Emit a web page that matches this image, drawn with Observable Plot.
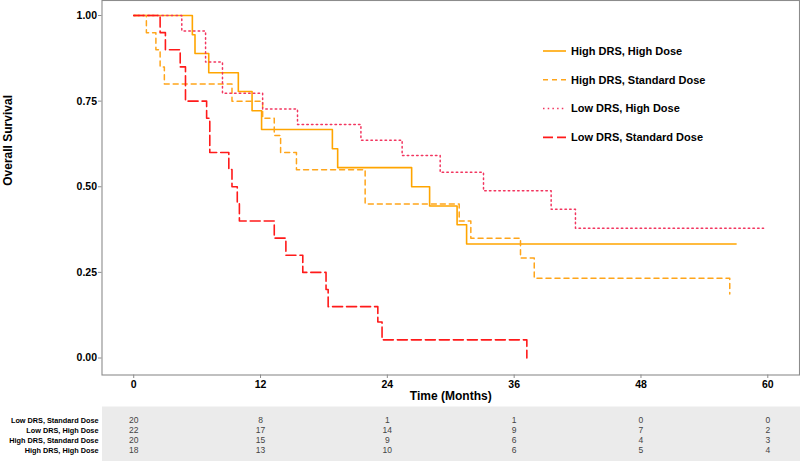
<!DOCTYPE html>
<html>
<head>
<meta charset="utf-8">
<script src="https://cdn.jsdelivr.net/npm/d3@7"></script>
<script src="https://cdn.jsdelivr.net/npm/@observablehq/plot@0.6"></script>
<style>
  html, body { margin: 0; padding: 0; background: #fff; }
  svg { display: block; }
</style>
</head>
<body>
<div id="chart"></div>
<script>
// ---- Data ----
const groupNames = ["High DRS, High Dose", "High DRS, Standard Dose", "Low DRS, High Dose", "Low DRS, Standard Dose"];

const hdhdTime = [0, 5.55, 5.8, 7.1, 9.9, 11.2, 12.1, 18.8, 19.3, 26.3, 28.0, 30.6, 31.5, 57.0];
const hdhdSurv = [1, 0.944, 0.889, 0.833, 0.778, 0.722, 0.667, 0.611, 0.556, 0.5, 0.444, 0.389, 0.333, 0.333];

const hdsdTime = [0, 1.2, 2.1, 2.5, 2.9, 9.3, 12.2, 13.3, 13.9, 15.4, 21.9, 30.8, 31.9, 36.6, 37.9, 56.4];
const hdsdSurv = [1, 0.95, 0.90, 0.85, 0.80, 0.75, 0.70, 0.65, 0.60, 0.55, 0.45, 0.40, 0.35, 0.292, 0.233, 0.187];

const ldhdTime = [0, 4.55, 6.8, 8.4, 12.2, 15.5, 21.5, 25.4, 29.0, 33.1, 39.5, 41.8, 59.6];
const ldhdSurv = [1, 0.955, 0.864, 0.773, 0.727, 0.682, 0.636, 0.591, 0.542, 0.488, 0.434, 0.379, 0.379];

const ldsdTime = [0, 2.5, 3.0, 4.4, 4.9, 6.9, 7.2, 9.0, 9.3, 9.8, 10.0, 13.3, 14.4, 16.0, 18.2, 18.4, 23.1, 23.5, 37.2];
const ldsdSurv = [1, 0.95, 0.90, 0.85, 0.75, 0.70, 0.60, 0.55, 0.50, 0.45, 0.40, 0.35, 0.30, 0.25, 0.20, 0.15, 0.105, 0.053, 0];

const xTicks = [0, 12, 24, 36, 48, 60];
const yTicks = [0, 0.25, 0.5, 0.75, 1];

const riskRows = ["Low DRS, Standard Dose", "Low DRS, High Dose", "High DRS, Standard Dose", "High DRS, High Dose"];
const riskLdsd = [20, 8, 1, 1, 0, 0];
const riskLdhd = [22, 17, 14, 9, 7, 2];
const riskHdsd = [20, 15, 9, 6, 4, 3];
const riskHdhd = [18, 13, 10, 6, 5, 4];

// ---- Styles ----
const styles = {
  "High DRS, High Dose":     {stroke: "#ffa500", dash: null,   width: 1.6},
  "High DRS, Standard Dose": {stroke: "#ffa51a", dash: "5,4",  width: 1.5},
  "Low DRS, High Dose":      {stroke: "#f2355f", dash: "1.5,3.2", width: 1.5},
  "Low DRS, Standard Dose":  {stroke: "#ff1a1a", dash: "10,4", width: 1.6}
};

const seriesArrays = [
  [groupNames[0], hdhdTime, hdhdSurv],
  [groupNames[1], hdsdTime, hdsdSurv],
  [groupNames[2], ldhdTime, ldhdSurv],
  [groupNames[3], ldsdTime, ldsdSurv]
];

const font = "'Liberation Sans', Arial, Helvetica, sans-serif";
const axisGray = "#8c8c8c";

const lineMarks = seriesArrays.map(([name, ts, ss]) => {
  const st = styles[name];
  const data = ts.map((t, i) => ({t, s: ss[i]}));
  return Plot.line(data, {
    x: "t", y: "s", curve: "step-after",
    stroke: st.stroke, strokeWidth: st.width,
    strokeDasharray: st.dash || undefined
  });
});

const main = Plot.plot({
  width: 800,
  height: 404,
  marginLeft: 101.5,
  marginRight: 1,
  marginTop: 0,
  marginBottom: 29.5,
  style: {fontFamily: font, background: "#fff"},
  x: {domain: [-3, 63]},
  y: {domain: [-0.0496, 1.0438]},
  marks: [
    Plot.axisX({ticks: xTicks, tickSize: 3.5, tickPadding: 2, fontSize: 10.5, fontWeight: "bold", stroke: axisGray, fill: "#000", label: null, tickFormat: d => d}),
    Plot.axisY({ticks: yTicks, tickSize: 3.5, tickPadding: 1.5, fontSize: 10.5, fontWeight: "bold", stroke: axisGray, fill: "#000", label: null, tickFormat: d3.format(".2f")}),
    Plot.frame({stroke: axisGray, strokeWidth: 1.1}),
    ...lineMarks,
    Plot.text(["Time (Months)"], {frameAnchor: "bottom", dy: 21, lineAnchor: "middle", fontSize: 12, fontWeight: "bold", fill: "#000"}),
    Plot.text(["Overall Survival"], {frameAnchor: "left", dx: -93.5, dy: -2, rotate: -90, lineAnchor: "middle", fontSize: 12, fontWeight: "bold", fill: "#000"})
  ]
});

// Legend (drawn inside the main SVG)
const legY0 = 51, legStep = 28.8;
const leg = d3.select(main).append("g").attr("font-family", font).attr("text-anchor", "start");
groupNames.forEach((name, i) => {
  const st = styles[name];
  const y = legY0 + i * legStep;
  leg.append("line")
    .attr("x1", 543).attr("x2", 566).attr("y1", y).attr("y2", y)
    .attr("stroke", st.stroke).attr("stroke-width", st.width)
    .attr("stroke-dasharray", st.dash);
  leg.append("text")
    .attr("x", 571).attr("y", y).attr("dy", "0.35em")
    .attr("text-anchor", "start")
    .attr("font-size", 11).attr("font-weight", "bold").attr("fill", "#000")
    .text(name);
});

// ---- Risk table ----
const riskByRow = {
  "Low DRS, Standard Dose": riskLdsd,
  "Low DRS, High Dose": riskLdhd,
  "High DRS, Standard Dose": riskHdsd,
  "High DRS, High Dose": riskHdhd
};
const riskData = [];
riskRows.forEach(r => riskByRow[r].forEach((n, i) => riskData.push({row: r, t: xTicks[i], n})));

const table = Plot.plot({
  width: 800,
  height: 57,
  marginLeft: 101.5,
  marginRight: 0,
  marginTop: 2,
  marginBottom: 0,
  style: {fontFamily: font, background: "#fff"},
  x: {domain: [-3, 63 + 66 / 697.5], axis: null},
  y: {type: "point", domain: riskRows, range: [9.5, 51.5]},
  marks: [
    Plot.frame({fill: "#ebebeb", stroke: null}),
    Plot.axisY({tickSize: 0, tickPadding: 3.5, fontSize: 7.3, fontWeight: "bold", fill: "#000", label: null}),
    Plot.text(riskData, {x: "t", y: "row", text: "n", fontSize: 8.5, fill: "#444"})
  ]
});

const host = document.getElementById("chart");
host.appendChild(main);
host.appendChild(table);
</script>
</body>
</html>
